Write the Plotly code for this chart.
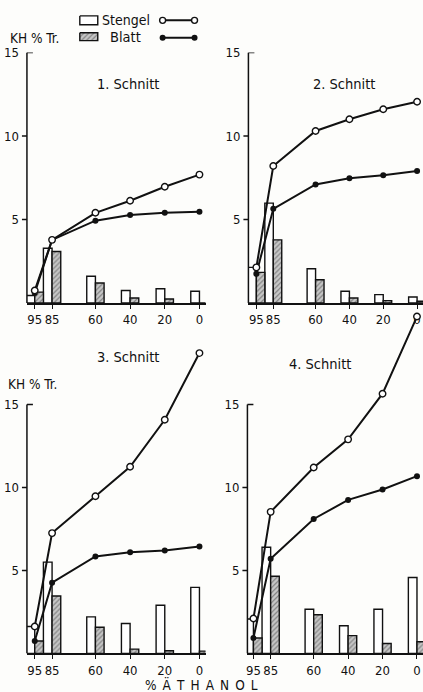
import plotly.graph_objects as go

# ---------------- data ----------------
ethanol = [95, 85, 60, 40, 20, 0]
tick_labels = ["95", "85", "60", "40", "20", "0"]

p1_stengel_bar = [0.45, 3.28, 1.6, 0.75, 0.85, 0.7]
p1_blatt_bar = [0.65, 3.08, 1.2, 0.3, 0.24, 0.0]
p1_stengel_line = [0.75, 3.78, 5.4, 6.12, 6.96, 7.69]
p1_blatt_line = [0.6, 3.78, 4.93, 5.27, 5.4, 5.47]

p2_stengel_bar = [2.13, 5.98, 2.05, 0.7, 0.5, 0.36]
p2_blatt_bar = [1.83, 3.78, 1.39, 0.3, 0.14, 0.1]
p2_stengel_line = [2.13, 8.2, 10.3, 11.0, 11.6, 12.05]
p2_blatt_line = [1.75, 5.64, 7.1, 7.47, 7.65, 7.9]

p3_stengel_bar = [1.62, 5.5, 2.2, 1.8, 2.9, 3.98]
p3_blatt_bar = [0.75, 3.46, 1.58, 0.26, 0.16, 0.14]
p3_stengel_line = [1.62, 7.25, 9.47, 11.25, 14.08, 18.1]
p3_blatt_line = [0.75, 4.26, 5.84, 6.1, 6.2, 6.44]

p4_stengel_bar = [2.07, 6.4, 2.66, 1.67, 2.66, 4.57]
p4_blatt_bar = [0.93, 4.65, 2.33, 1.07, 0.6, 0.7]
p4_stengel_line = [2.1, 8.53, 11.2, 12.9, 15.65, 20.3]
p4_blatt_line = [0.93, 5.7, 8.1, 9.25, 9.88, 10.68]

panel_titles = ["1. Schnitt", "2. Schnitt", "3. Schnitt", "4. Schnitt"]
y_label = "KH % Tr."
x_label = "\u2002".join(["%", "Ä", "T", "H", "A", "N", "O", "L"])
legend_names = ["Stengel", "Blatt"]

# ---------------- layout helpers ----------------
W, H = 423, 692
FONT = "DejaVu Sans Condensed, Liberation Sans Narrow, Liberation Sans, Arial, sans-serif"
INK = "#111111"


def px(x):
    return x / W


def py(y):
    return 1 - y / H


panels = [
    dict(data=(p1_stengel_bar, p1_blatt_bar, p1_stengel_line, p1_blatt_line),
         xdom=(26, 205), xrange=(99.5, -3.5), ydom=(299, 46), yrange=(0, 15)),
    dict(data=(p2_stengel_bar, p2_blatt_bar, p2_stengel_line, p2_blatt_line),
         xdom=(248, 423), xrange=(99.7, -3.5), ydom=(299, 46), yrange=(0, 15)),
    dict(data=(p3_stengel_bar, p3_blatt_bar, p3_stengel_line, p3_blatt_line),
         xdom=(26, 205), xrange=(99.5, -3.5), ydom=(653, 301), yrange=(0, 21)),
    dict(data=(p4_stengel_bar, p4_blatt_bar, p4_stengel_line, p4_blatt_line),
         xdom=(247, 423), xrange=(98.5, -3.5), ydom=(653, 301), yrange=(0, 21)),
]

hatch = dict(shape="/", fgcolor="#3a3a3a", bgcolor="#c8c8c8", size=3.5, solidity=0.35)

fig = go.Figure()
layout = dict(
    width=W, height=H,
    margin=dict(l=0, r=0, t=0, b=0),
    paper_bgcolor="#fdfdfb", plot_bgcolor="rgba(0,0,0,0)",
    showlegend=False, barmode="overlay",
    font=dict(family=FONT, color=INK, size=13),
)
shapes = []
annotations = []


def note(text, x, y, size=14, xanchor="center"):
    annotations.append(dict(text=text, x=px(x), y=py(y), xref="paper", yref="paper",
                            xanchor=xanchor, yanchor="middle", showarrow=False,
                            font=dict(size=size, family=FONT, color=INK)))


for i, p in enumerate(panels):
    n = i + 1
    xa = "x" if n == 1 else f"x{n}"
    ya = "y" if n == 1 else f"y{n}"
    sb, bb, sl, bl = p["data"]
    fig.add_trace(go.Bar(x=ethanol, y=sb, width=5, offset=0, xaxis=xa, yaxis=ya,
                         marker=dict(color="white", line=dict(color=INK, width=1.4))))
    fig.add_trace(go.Bar(x=ethanol, y=bb, width=5, offset=-5, xaxis=xa, yaxis=ya,
                         marker=dict(color="#c8c8c8", pattern=hatch,
                                     line=dict(color=INK, width=1.4))))
    fig.add_trace(go.Scatter(x=ethanol, y=bl, mode="lines+markers", xaxis=xa, yaxis=ya,
                             cliponaxis=False,
                             line=dict(color=INK, width=2),
                             marker=dict(symbol="circle", size=6, color=INK)))
    fig.add_trace(go.Scatter(x=ethanol, y=sl, mode="lines+markers", xaxis=xa, yaxis=ya,
                             cliponaxis=False,
                             line=dict(color=INK, width=2),
                             marker=dict(symbol="circle", size=6.5, color="white",
                                         line=dict(color=INK, width=1.4))))
    xkey = "xaxis" if n == 1 else f"xaxis{n}"
    ykey = "yaxis" if n == 1 else f"yaxis{n}"
    layout[xkey] = dict(
        domain=[px(p["xdom"][0]), px(p["xdom"][1])], range=list(p["xrange"]),
        anchor=ya, showgrid=False, zeroline=False, showline=True,
        linecolor=INK, linewidth=1.5, ticks="outside", ticklen=4, tickwidth=1.4,
        tickcolor=INK, tickvals=ethanol, ticktext=tick_labels, tickangle=0,
        tickfont=dict(size=13, family=FONT, color=INK), fixedrange=True,
    )
    layout[ykey] = dict(
        domain=[py(p["ydom"][0]), py(p["ydom"][1])], range=list(p["yrange"]),
        anchor=xa, showgrid=False, zeroline=False, showline=False,
        ticks="", tickvals=[5, 10, 15], ticktext=["5", "10", "15"], ticklabelstandoff=7,
        tickfont=dict(size=13, family=FONT, color=INK), fixedrange=True,
    )
    dref = f"{xa} domain"
    shapes.append(dict(type="line", xref=dref, yref=ya, x0=0, x1=0, y0=0, y1=15,
                       line=dict(color=INK, width=1.5)))
    wpx = p["xdom"][1] - p["xdom"][0]
    for v in (5, 10):
        shapes.append(dict(type="line", xref=dref, yref=ya, x0=-5 / wpx, x1=0, y0=v, y1=v,
                           line=dict(color=INK, width=1.4)))
    shapes.append(dict(type="line", xref=dref, yref=ya, x0=0, x1=6 / wpx, y0=15, y1=15,
                       line=dict(color=INK, width=1.4)))

for text, (cx, cy) in zip(panel_titles, [(127, 78), (344, 78), (127, 354), (320, 361)]):
    note(text, cx, cy, size=14.5)

note(y_label, 7, 31, size=13.5, xanchor="left")
note(y_label, 5, 381, size=13.5, xanchor="left")
note(x_label, 201, 684, size=13.5)

# ---------------- legend (overlay axis in pixel units) ----------------
layout["xaxis5"] = dict(domain=[0, 1], range=[0, W], visible=False, fixedrange=True)
layout["yaxis5"] = dict(domain=[0, 1], range=[H, 0], visible=False, fixedrange=True)
fig.add_trace(go.Scatter(x=[79, 97, 97, 79, 79], y=[9, 9, 18, 18, 9], mode="lines",
                         fill="toself", fillcolor="white", xaxis="x5", yaxis="y5",
                         line=dict(color=INK, width=1.4)))
fig.add_trace(go.Scatter(x=[79, 97, 97, 79, 79], y=[26, 26, 34, 34, 26], mode="lines",
                         fill="toself", fillcolor="#c8c8c8", fillpattern=hatch,
                         xaxis="x5", yaxis="y5", line=dict(color=INK, width=1.4)))
fig.add_trace(go.Scatter(x=[162, 194], y=[13.5, 13.5], mode="lines+markers", xaxis="x5", yaxis="y5",
                         line=dict(color=INK, width=2),
                         marker=dict(symbol="circle", size=6, color="white",
                                     line=dict(color=INK, width=1.4))))
fig.add_trace(go.Scatter(x=[162, 194], y=[31, 31], mode="lines+markers", xaxis="x5", yaxis="y5",
                         line=dict(color=INK, width=2),
                         marker=dict(symbol="circle", size=6, color=INK)))
note(legend_names[0], 99, 13, size=14, xanchor="left")
note(legend_names[1], 107, 30.5, size=14.5, xanchor="left")

layout["shapes"] = shapes
layout["annotations"] = annotations
fig.update_layout(**layout)
fig.write_html(
    "out.html",
    config={"displayModeBar": False},
    post_script="document.body.style.margin='0';document.body.style.padding='0';",
)
